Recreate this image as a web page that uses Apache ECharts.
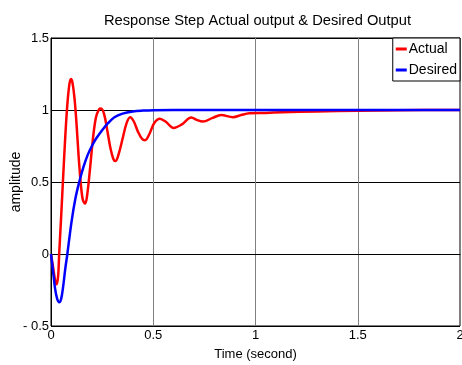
<!DOCTYPE html>
<html>
<head>
<meta charset="utf-8">
<script src="https://cdn.jsdelivr.net/npm/echarts@6/dist/echarts.min.js"></script>
<style>
html,body{margin:0;padding:0;background:#fff;}
#chart{width:462px;height:365px;}
</style>
</head>
<body>
<div id="chart"></div>
<script>
// Data
var titleText = 'Response Step Actual output & Desired Output';
var xAxisName = 'Time (second)';
var yAxisName = 'amplitude';
var seriesNames = ['Actual', 'Desired'];
var xTickLabels = {0: '0', 0.5: '0.5', 1: '1', 1.5: '1.5', 2: '2'};
var yTickLabels = {'-0.5': '- 0.5', 0: '0', 0.5: '0.5', 1: '1', 1.5: '1.5'};

var actualT = [0, 0.01, 0.02, 0.028, 0.035, 0.04, 0.05, 0.06, 0.07, 0.08, 0.09, 0.098, 0.105, 0.115, 0.125, 0.135, 0.145, 0.155, 0.166, 0.175, 0.19, 0.205, 0.22, 0.235, 0.245, 0.26, 0.275, 0.29, 0.305, 0.315, 0.33, 0.35, 0.37, 0.387, 0.405, 0.425, 0.445, 0.46, 0.48, 0.505, 0.532, 0.56, 0.6, 0.64, 0.686, 0.715, 0.743, 0.79, 0.832, 0.89, 0.93, 0.97, 1.05, 1.13, 1.3, 1.5, 1.7, 2.0];
var actualY = [0, -0.09, -0.18, -0.21, -0.15, 0.0, 0.27, 0.55, 0.82, 1.04, 1.18, 1.215, 1.19, 1.08, 0.9, 0.68, 0.5, 0.38, 0.35, 0.39, 0.58, 0.8, 0.95, 1.005, 1.01, 0.97, 0.86, 0.74, 0.66, 0.645, 0.69, 0.8, 0.91, 0.95, 0.92, 0.85, 0.8, 0.79, 0.83, 0.91, 0.94, 0.92, 0.875, 0.9, 0.948, 0.93, 0.92, 0.945, 0.965, 0.95, 0.965, 0.977, 0.98, 0.984, 0.99, 0.995, 0.999, 1.0];

var desiredT = [0, 0.01, 0.02, 0.03, 0.04, 0.05, 0.06, 0.07, 0.08, 0.1, 0.12, 0.14, 0.16, 0.18, 0.2, 0.22, 0.25, 0.28, 0.31, 0.35, 0.4, 0.45, 0.5, 0.6, 2.0];
var desiredY = [0, -0.12, -0.24, -0.31, -0.335, -0.31, -0.22, -0.1, 0.0, 0.22, 0.39, 0.51, 0.61, 0.69, 0.75, 0.8, 0.86, 0.91, 0.95, 0.975, 0.99, 0.996, 0.999, 1.0, 1.0];

function pairs(t, y) { return t.map(function (v, i) { return [v, y[i]]; }); }

var FONT = 'Liberation Sans, Arial, sans-serif';
var chart = echarts.init(document.getElementById('chart'), null, {renderer: 'canvas'});
chart.setOption({
  backgroundColor: '#fff',
  animation: false,
  textStyle: {fontFamily: FONT, color: '#000'},
  title: {
    text: titleText,
    left: 99, top: 8,
    textStyle: {fontFamily: FONT, fontSize: 14.7, fontWeight: 'normal', color: '#000'}
  },
  legend: {
    orient: 'vertical',
    right: 2, top: 38,
    backgroundColor: '#fff',
    borderColor: '#000', borderWidth: 1, borderRadius: 0,
    padding: [4, 3, 4, 3],
    itemGap: 7,
    itemWidth: 11, itemHeight: 3,
    icon: 'rect',
    textStyle: {fontFamily: FONT, fontSize: 14, color: '#000', padding: [0, 0, 0, -3]},
    data: seriesNames
  },
  grid: {
    left: 51, right: 2, top: 38, bottom: 39,
    outerBoundsMode: 'none',
    containLabel: false,
    show: true, borderColor: '#000', borderWidth: 1, backgroundColor: '#fff'
  },
  xAxis: {
    type: 'value', min: 0, max: 2, interval: 0.5,
    name: xAxisName, nameLocation: 'middle', nameGap: 22,
    nameMoveOverlap: false,
    nameTextStyle: {fontFamily: FONT, fontSize: 13, color: '#000'},
    axisLine: {show: true, lineStyle: {color: '#000', width: 1}},
    axisTick: {show: false},
    axisLabel: {margin: 3, fontFamily: FONT, fontSize: 13, color: '#000',
      formatter: function (v) { return xTickLabels[v] !== undefined ? xTickLabels[v] : ''; }},
    splitLine: {show: true, lineStyle: {color: '#808080', width: 1}}
  },
  yAxis: {
    type: 'value', min: -0.5, max: 1.5, interval: 0.5,
    name: yAxisName, nameLocation: 'middle', nameGap: 28, nameRotate: 90,
    nameMoveOverlap: false,
    nameTextStyle: {fontFamily: FONT, fontSize: 14, color: '#000'},
    axisLine: {show: true, lineStyle: {color: '#000', width: 1}},
    axisTick: {show: false},
    axisLabel: {margin: 2, fontFamily: FONT, fontSize: 13, color: '#000',
      formatter: function (v) { return yTickLabels[String(v)] !== undefined ? yTickLabels[String(v)] : ''; }},
    splitLine: {show: true, lineStyle: {color: '#000', width: 1}}
  },
  series: [
    {name: seriesNames[0], type: 'line', data: pairs(actualT, actualY), smooth: 0.35,
      showSymbol: false, symbol: 'none', color: '#ff0000',
      lineStyle: {color: '#ff0000', width: 2.5}, z: 3},
    {name: seriesNames[1], type: 'line', data: pairs(desiredT, desiredY), smooth: 0.35,
      showSymbol: false, symbol: 'none', color: '#0000ff',
      lineStyle: {color: '#0000ff', width: 2.5}, z: 4}
  ]
});
</script>
</body>
</html>
